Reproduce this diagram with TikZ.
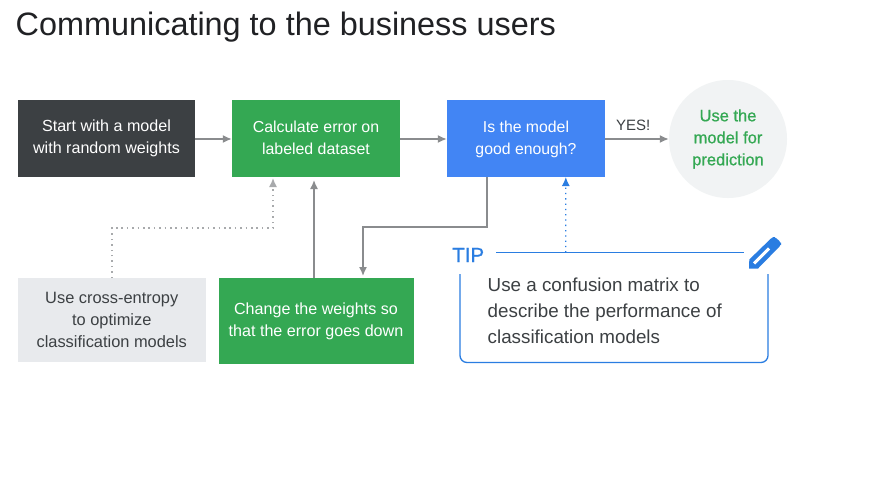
\documentclass[tikz,border=0pt]{standalone}
\usepackage{fontspec}
\setmainfont{Liberation Sans}
\newfontfamily\medfont[FakeBold=0.8]{Liberation Sans}
\usetikzlibrary{arrows.meta,calc}
\definecolor{cdark}{HTML}{3C4043}
\definecolor{cgreen}{HTML}{34A853}
\definecolor{cblue}{HTML}{4285F4}
\definecolor{cline}{HTML}{2A7DE1}
\definecolor{cgrayb}{HTML}{E8EAED}
\definecolor{ccirc}{HTML}{F1F3F4}
\definecolor{carrow}{HTML}{8A8C8E}
\definecolor{cdots}{HTML}{A8AAAC}
\definecolor{ctext}{HTML}{3C4043}
\definecolor{ctitle}{HTML}{202124}
\tikzset{
 x=1pt,y=-1pt,
 boxnode/.style={inner sep=0pt,align=center,font=\fontsize{16.1}{22}\selectfont},
 conn/.style={draw=carrow,line width=1.5pt,-{Latex[length=9pt,width=8pt]}},
 dotconn/.style={draw=cdots,line width=1.5pt,dash pattern=on 1.5pt off 3.9pt,-{Latex[length=9pt,width=8pt,fill=cdots]}},
 tipconn/.style={draw=cline,line width=1.3pt,dash pattern=on 1.3pt off 4pt,-{Latex[length=9pt,width=8pt,fill=cline]}},
 tipline/.style={draw=cline,line width=1.3pt},
}
\begin{document}
\begin{tikzpicture}
\useasboundingbox (0,0) rectangle (890,479);
\fill[white] (0,0) rectangle (890,479);
\node[anchor=west,inner sep=0pt,text=ctitle,font=\fontsize{32.4}{36}\selectfont] (title) at (15.5,27.5) {Communicating to the business users};

\node[boxnode,fill=cdark,text=white,minimum width=177pt,minimum height=77pt] (start) at (106.5,138.5) {Start with a model\\with random weights};
\node[boxnode,fill=cgreen,text=white,minimum width=168pt,minimum height=77pt,font=\fontsize{15.9}{22}\selectfont] (calc) at (316,138.5) {Calculate error on\\labeled dataset\rule[-1.6pt]{0pt}{0pt}};
\node[boxnode,fill=cblue,text=white,minimum width=158pt,minimum height=77pt,font=\fontsize{15.8}{22}\selectfont] (good) at (526,138.5) {\rule{0pt}{13.6pt}Is the model\\good enough?};
\node[boxnode,circle,fill=ccirc,text=cgreen,minimum size=118pt,font=\medfont\fontsize{16.5}{22}\selectfont] (use) at (728,139) {Use the\\model for\\prediction};
\node[boxnode,fill=cgrayb,text=ctext,minimum width=187.5pt,minimum height=84pt,font=\fontsize{16.4}{22}\selectfont] (cross) at (111.75,320) {Use cross-entropy\\to optimize\\classification models};
\node[boxnode,fill=cgreen,text=white,minimum width=195pt,minimum height=86pt] (change) at (316,321) {Change the weights so\\that the error goes down};

\node[anchor=west,inner sep=0pt,text=ctext,font=\fontsize{15}{15}\selectfont] (yes) at (616,125) {YES!};

\draw[conn] (start.east |- 0,139) -- (calc.west |- 0,139);
\draw[conn] (calc.east |- 0,139) -- (good.west |- 0,139);
\draw[conn] (good.east |- 0,139) -- (use.west |- 0,139);

\coordinate (crossout) at (112,278);
\coordinate (calcinA) at (273,178);
\draw[dotconn] (crossout) -- (112,228) -- (273,228) -- (calcinA);
\coordinate (changeout) at (314,278);
\coordinate (calcinB) at (314,180);
\draw[conn] (changeout) -- (calcinB);
\coordinate (goodout) at (487,177);
\coordinate (changein) at (363,276);
\draw[conn] (goodout) -- (487,227) -- (363,227) -- (changein);

\node[anchor=west,inner sep=0pt,text=cline,font=\medfont\fontsize{20.5}{22}\selectfont] (tip) at (452,255) {TIP};
\coordinate (tipL) at (496,252.5);
\coordinate (tipR) at (744,252.5);
\draw[tipline] (tipL) -- (tipR);
\coordinate (tipup) at ($(tipL)!0.2815!(tipR)$);
\coordinate (goodin) at (565.8,177);
\draw[tipconn] (tipup) -- (goodin);
\draw[tipline,rounded corners=7pt] (460,274) -- (460,362.5) -- (768,362.5) -- (768,274);
\node[anchor=north west,inner sep=0pt,align=left,text=ctext,font=\fontsize{18.8}{26}\selectfont] (tiptext) at (487.5,278) {Use a confusion matrix to\\describe the performance of\\classification models};

% pencil icon
\fill[cline,rounded corners=2.5pt] (749,268.5) [sharp corners] -- (749.3,259.5) [rounded corners=2.5pt] -- (772.5,237) -- (775,237) -- (781,242.5) -- (781,245) [sharp corners] -- (758,268.5) -- cycle;
\draw[white,line width=3pt] (754,263.5) -- (769,248.5);
\end{tikzpicture}
\end{document}
